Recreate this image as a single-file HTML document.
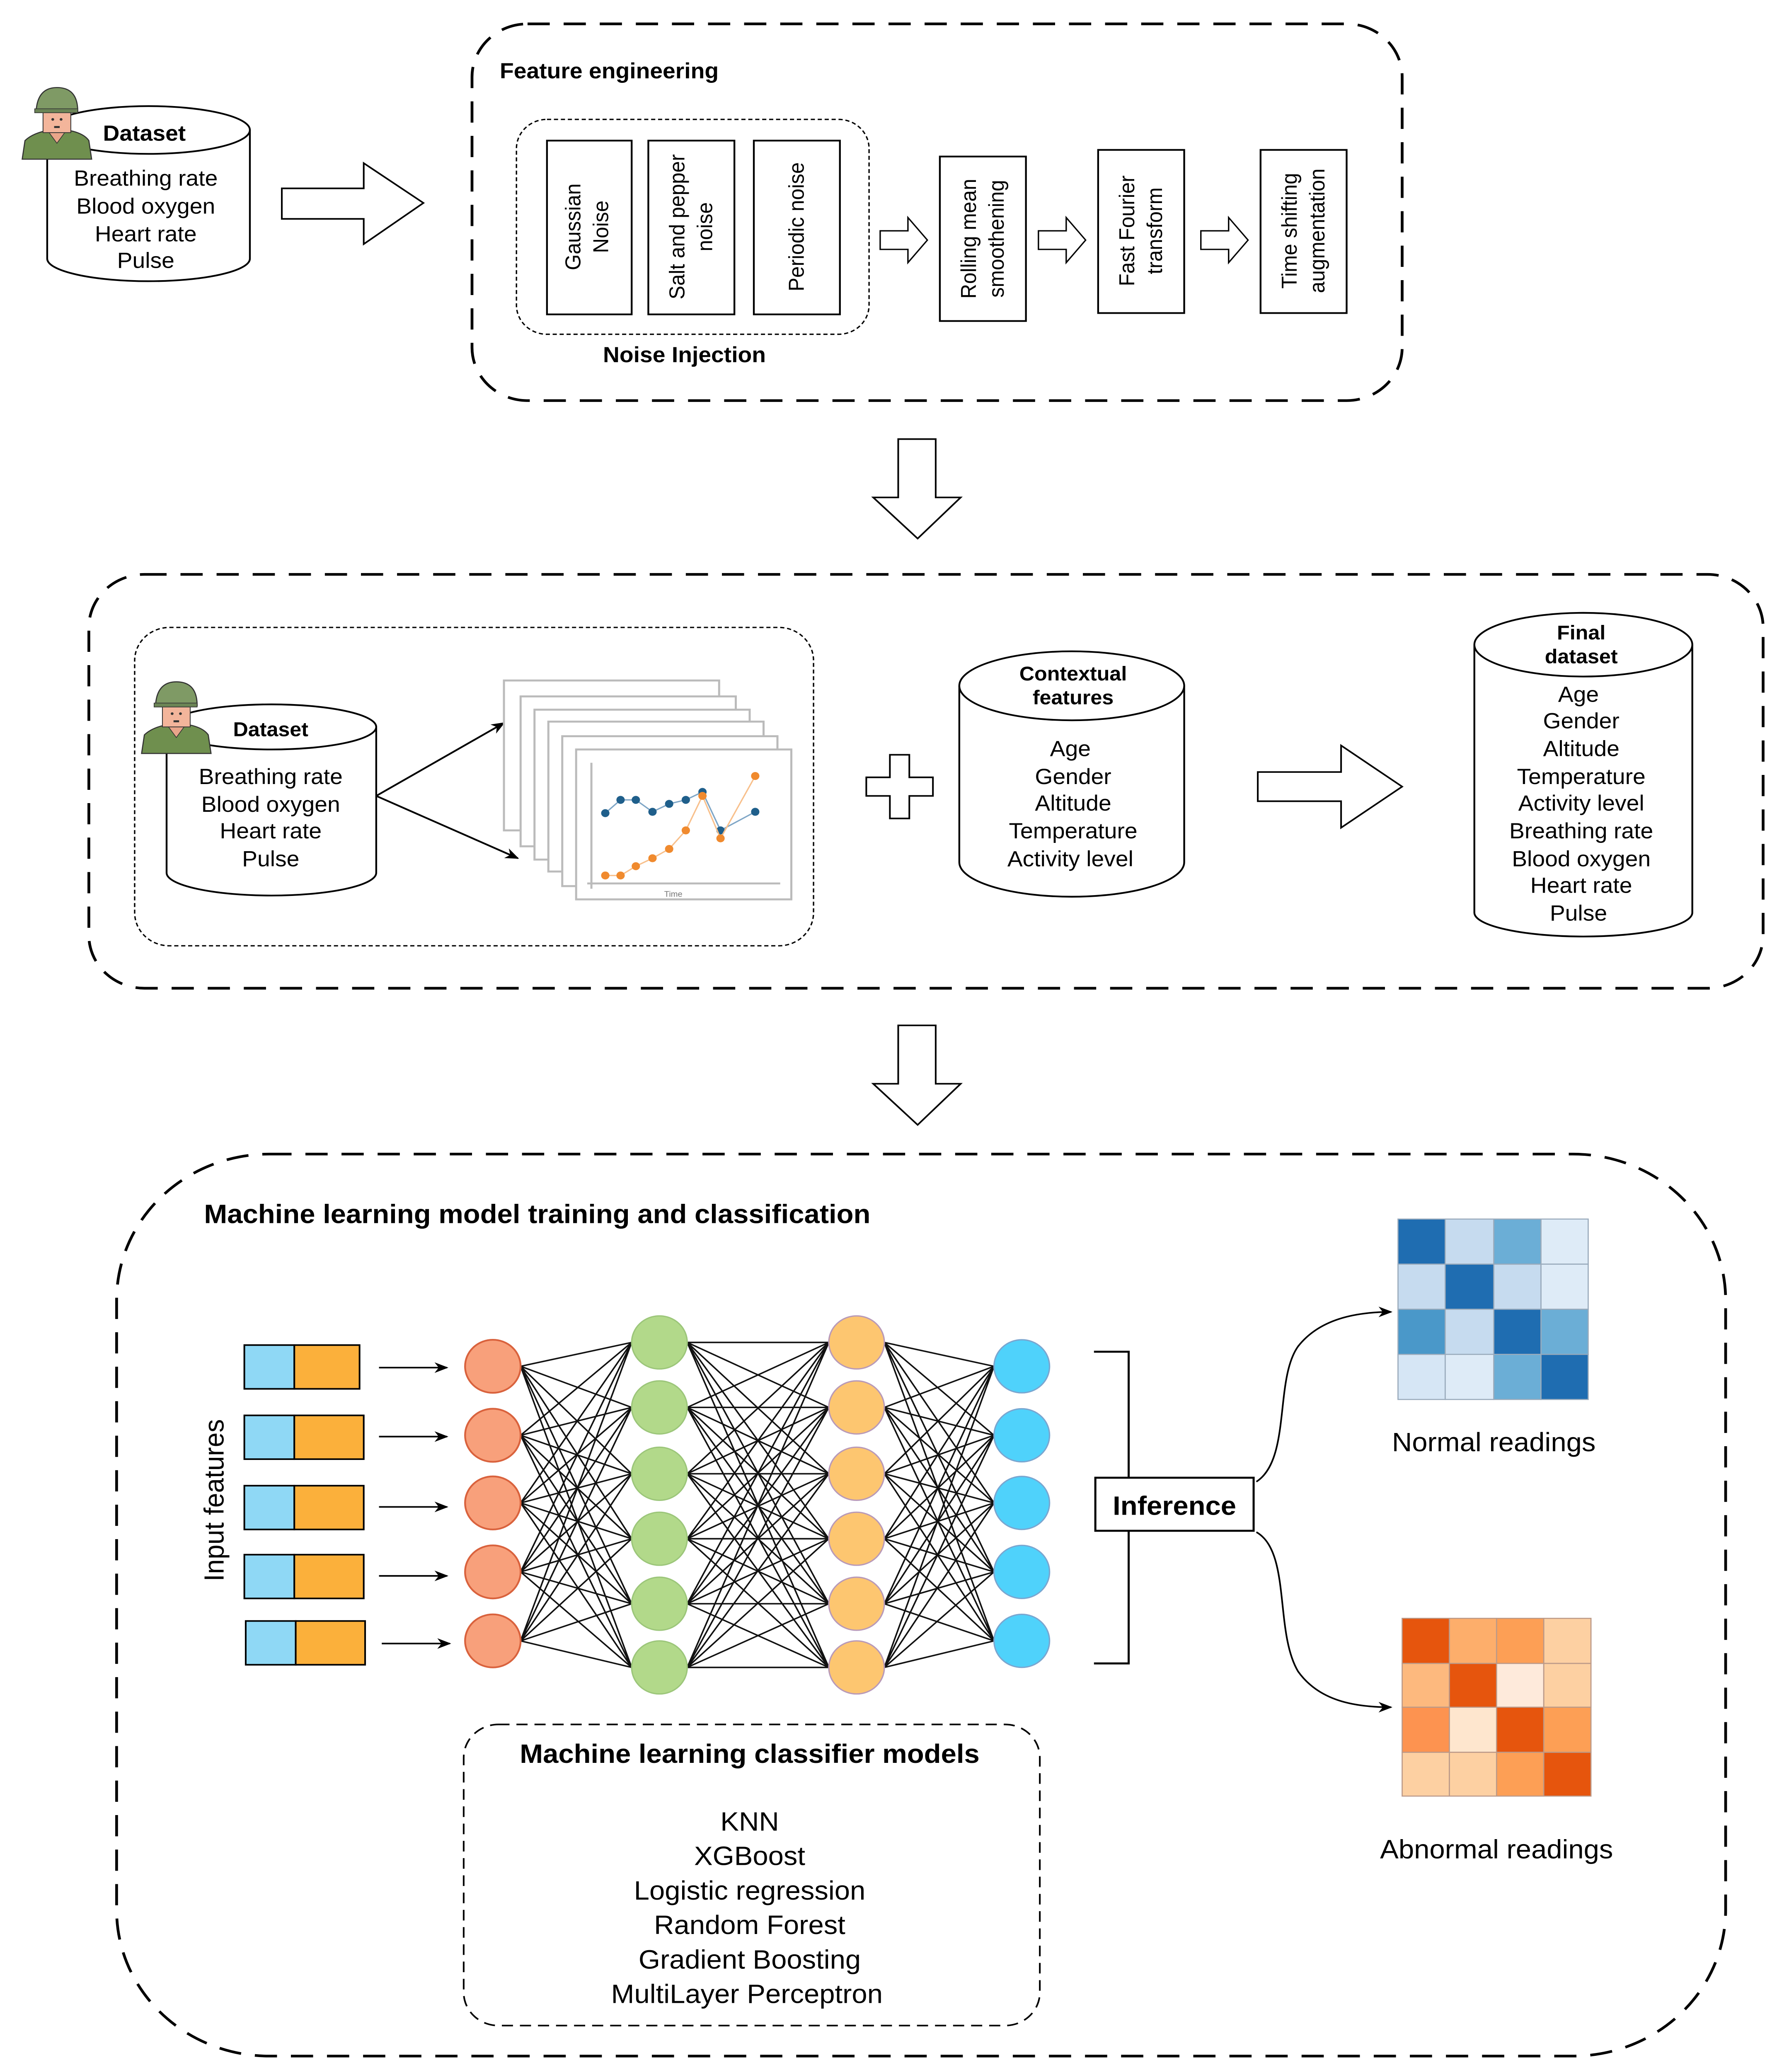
<!DOCTYPE html>
<html><head><meta charset="utf-8"><style>html,body{margin:0;padding:0;background:#fff;overflow:hidden;width:100%;height:100%}svg{display:block;width:100vw;height:100vh}</style></head>
<body>
<svg xmlns="http://www.w3.org/2000/svg" viewBox="0 0 1280 1562" preserveAspectRatio="none" font-family="Liberation Sans, sans-serif">
<defs>
<marker id="ah" markerWidth="10" markerHeight="8" refX="9" refY="4" orient="auto" markerUnits="userSpaceOnUse"><path d="M0,0 L10,4 L0,8 L3,4 Z" fill="#000"/></marker>
<g id="soldier">
 <path d="M-22,28 L-20,14 Q-14,8 -2,6 L10,6 Q22,8 26,14 L28,28 Z" fill="#6f8f4e" stroke="#333" stroke-width="0.8"/>
 <path d="M-4,6 L3,16 L10,6 Z" fill="#e9a58a" stroke="#333" stroke-width="0.5"/>
 <rect x="-7" y="-8" width="20" height="16" fill="#f3b59b" stroke="#333" stroke-width="0.6"/>
 <path d="M-12,-8 Q-11,-26 3,-26 Q18,-26 18,-8 Z" fill="#7f9a65" stroke="#333" stroke-width="0.8"/>
 <rect x="-13" y="-10" width="31" height="3" fill="#6b8455" stroke="#333" stroke-width="0.5"/>
 <circle cx="0" cy="-2" r="1" fill="#333"/><circle cx="6" cy="-2" r="1" fill="#333"/>
 <rect x="1" y="3" width="4" height="1.5" fill="#333"/>
</g>
</defs>
<rect width="1280" height="1562" fill="#fff"/>
<g fill="none" stroke="#000">
 <rect x="340" y="18" width="670" height="284" rx="40" stroke-width="2" stroke-dasharray="16,10"/>
 <rect x="372" y="90" width="254" height="162" rx="22" stroke-width="1" stroke-dasharray="3,2"/>
 <rect x="394" y="106" width="61" height="131" stroke-width="1.3"/>
 <rect x="467" y="106" width="62" height="131" stroke-width="1.3"/>
 <rect x="543" y="106" width="62" height="131" stroke-width="1.3"/>
 <rect x="677" y="118" width="62" height="124" stroke-width="1.3"/>
 <rect x="791" y="113" width="62" height="123" stroke-width="1.3"/>
 <rect x="908" y="113" width="62" height="123" stroke-width="1.3"/>
 <path d="M634,174 h20 v-10 l14,17 l-14,17 v-10 h-20 Z" stroke-width="1"/>
 <path d="M748,174 h20 v-10 l14,17 l-14,17 v-10 h-20 Z" stroke-width="1"/>
 <path d="M865,174 h20 v-10 l14,17 l-14,17 v-10 h-20 Z" stroke-width="1"/>
 <path d="M203,142 h59 v-19 l43,30 l-43,31 v-19 h-59 Z" stroke-width="1.2"/>
 <path d="M34,98 v97 a73,17 0 0 0 146,0 v-97" fill="#fff" stroke-width="1.3"/>
 <ellipse cx="107" cy="98" rx="73" ry="18" fill="#fff" stroke-width="1.3"/>
 <path d="M647,331 h27 v44 h18 l-31,31 l-32,-31 h18 Z" stroke-width="1.2"/>
 <path d="M647,773 h27 v44 h18 l-31,31 l-32,-31 h18 Z" stroke-width="1.2"/>
 <rect x="64" y="433" width="1206" height="312" rx="40" stroke-width="2" stroke-dasharray="16,10"/>
 <rect x="97" y="473" width="489" height="240" rx="25" stroke-width="1" stroke-dasharray="3,2"/>
 <path d="M120,548 v110 a75,17 0 0 0 151,0 v-110" fill="#fff" stroke-width="1.3"/>
 <ellipse cx="195.5" cy="548" rx="75.5" ry="17" fill="#fff" stroke-width="1.3"/>
 <line x1="271" y1="600" x2="363" y2="545" stroke-width="1.3" marker-end="url(#ah)"/>
 <line x1="271" y1="600" x2="373" y2="647" stroke-width="1.3" marker-end="url(#ah)"/>
 <path d="M641,569 h14 v17 h17 v14 h-17 v17 h-14 v-17 h-17 v-14 h17 Z" stroke-width="1.2"/>
 <path d="M691,517 v133 a81,26 0 0 0 162,0 v-133" fill="#fff" stroke-width="1.3"/>
 <ellipse cx="772" cy="517" rx="81" ry="26" fill="#fff" stroke-width="1.3"/>
 <path d="M906,582 h60 v-20 l44,31 l-44,31 v-20 h-60 Z" stroke-width="1.2"/>
 <path d="M1062,486 v202 a78.5,18 0 0 0 157,0 v-202" fill="#fff" stroke-width="1.3"/>
 <ellipse cx="1140.5" cy="486" rx="78.5" ry="24" fill="#fff" stroke-width="1.3"/>
 <rect x="84" y="870" width="1159" height="680" rx="110" stroke-width="2" stroke-dasharray="16,10"/>
 <rect x="334" y="1300" width="415" height="227" rx="25" stroke-width="1.2" stroke-dasharray="8,5"/>
 <path d="M788,1019 h25 v235 h-25" stroke-width="1.5"/>
 <path d="M905,1117 C930,1100 918,1040 935,1015 C950,995 975,989 1002,989" stroke-width="1.2" marker-end="url(#ah)"/>
 <path d="M905,1155 C930,1170 918,1230 935,1260 C950,1282 975,1287 1002,1287" stroke-width="1.2" marker-end="url(#ah)"/>
</g>
<use href="#soldier" transform="translate(38,92)"/>
<use href="#soldier" transform="translate(124,540)"/>
<g fill="#fff" stroke="#bbb" stroke-width="1.5">
 <rect x="363" y="513" width="155" height="113"/>
 <rect x="375" y="525" width="155" height="113"/>
 <rect x="385" y="535" width="155" height="113"/>
 <rect x="395" y="544" width="155" height="113"/>
 <rect x="405" y="555" width="155" height="113"/>
 <rect x="415" y="565" width="155" height="113"/>
</g>
<line x1="426" y1="575" x2="426" y2="670" stroke="#bbb" stroke-width="1.5"/>
<line x1="423" y1="666" x2="562" y2="666" stroke="#bbb" stroke-width="1.5"/>
<text x="485" y="676" font-size="6" fill="#777" text-anchor="middle">Time</text>
<polyline points="436,613 447,603 458,603 470,612 482,606 494,603 506,597 519,626 544,612" fill="none" stroke="#7fa6c6" stroke-width="1"/>
<g fill="#1f5f8b"><circle cx="436" cy="613" r="3"/><circle cx="447" cy="603" r="3"/><circle cx="458" cy="603" r="3"/><circle cx="470" cy="612" r="3"/><circle cx="482" cy="606" r="3"/><circle cx="494" cy="603" r="3"/><circle cx="506" cy="597" r="3"/><circle cx="519" cy="626" r="3"/><circle cx="544" cy="612" r="3"/></g>
<polyline points="436,660 447,660 458,653 470,647 482,640 494,626 506,600 519,632 544,585" fill="none" stroke="#f8c08c" stroke-width="1"/>
<g fill="#f08a2e"><circle cx="436" cy="660" r="3"/><circle cx="447" cy="660" r="3"/><circle cx="458" cy="653" r="3"/><circle cx="470" cy="647" r="3"/><circle cx="482" cy="640" r="3"/><circle cx="494" cy="626" r="3"/><circle cx="506" cy="600" r="3"/><circle cx="519" cy="632" r="3"/><circle cx="544" cy="585" r="3"/></g>
<g font-size="16.5" fill="#000">
 <text x="360" y="59" font-weight="bold">Feature engineering</text>
 <text x="493" y="273" font-weight="bold" text-anchor="middle">Noise Injection</text>
 <text x="104" y="106" font-weight="bold" text-anchor="middle">Dataset</text>
 <g text-anchor="middle">
  <text x="105" y="140">Breathing rate</text><text x="105" y="161">Blood oxygen</text>
  <text x="105" y="182">Heart rate</text><text x="105" y="202">Pulse</text>
 </g>
 <g text-anchor="middle" font-size="15.5">
  <text transform="translate(418,171) rotate(-90)">Gaussian</text>
  <text transform="translate(438,171) rotate(-90)">Noise</text>
  <text transform="translate(493,171) rotate(-90)">Salt and pepper</text>
  <text transform="translate(513,171) rotate(-90)">noise</text>
  <text transform="translate(579,171) rotate(-90)">Periodic noise</text>
  <text transform="translate(703,180) rotate(-90)">Rolling mean</text>
  <text transform="translate(723,180) rotate(-90)">smoothening</text>
  <text transform="translate(817,174) rotate(-90)">Fast Fourier</text>
  <text transform="translate(837,174) rotate(-90)">transform</text>
  <text transform="translate(934,174) rotate(-90)">Time shifting</text>
  <text transform="translate(954,174) rotate(-90)">augmentation</text>
 </g>
</g>
<g font-size="16.5" fill="#000" text-anchor="middle">
 <text x="195" y="555" font-weight="bold" font-size="15">Dataset</text>
 <text x="195" y="591">Breathing rate</text><text x="195" y="612">Blood oxygen</text>
 <text x="195" y="632">Heart rate</text><text x="195" y="653">Pulse</text>
 <text x="773" y="513" font-weight="bold" font-size="15">Contextual</text>
 <text x="773" y="531" font-weight="bold" font-size="15">features</text>
 <text x="771" y="570">Age</text><text x="773" y="591">Gender</text><text x="773" y="611">Altitude</text>
 <text x="773" y="632">Temperature</text><text x="771" y="653">Activity level</text>
 <text x="1139" y="482" font-weight="bold" font-size="15">Final</text>
 <text x="1139" y="500" font-weight="bold" font-size="15">dataset</text>
 <text x="1137" y="529">Age</text><text x="1139" y="549">Gender</text><text x="1139" y="570">Altitude</text>
 <text x="1139" y="591">Temperature</text><text x="1139" y="611">Activity level</text><text x="1139" y="632">Breathing rate</text>
 <text x="1139" y="653">Blood oxygen</text><text x="1139" y="673">Heart rate</text><text x="1137" y="694">Pulse</text>
</g>
<text x="147" y="922" font-size="20" font-weight="bold">Machine learning model training and classification</text>
<text transform="translate(161,1131) rotate(-90)" font-size="20" text-anchor="middle">Input features</text>
<g stroke="#000" stroke-width="1.2">
 <rect x="176" y="1014" width="36" height="33" fill="#8fd8f5"/><rect x="212" y="1014" width="47" height="33" fill="#fbb03b"/>
 <rect x="176" y="1067" width="36" height="33" fill="#8fd8f5"/><rect x="212" y="1067" width="50" height="33" fill="#fbb03b"/>
 <rect x="176" y="1120" width="36" height="33" fill="#8fd8f5"/><rect x="212" y="1120" width="50" height="33" fill="#fbb03b"/>
 <rect x="176" y="1172" width="36" height="33" fill="#8fd8f5"/><rect x="212" y="1172" width="50" height="33" fill="#fbb03b"/>
 <rect x="177" y="1222" width="36" height="33" fill="#8fd8f5"/><rect x="213" y="1222" width="50" height="33" fill="#fbb03b"/>
</g>
<g stroke="#000" stroke-width="1.2" marker-end="url(#ah)">
 <line x1="273" y1="1031" x2="322" y2="1031"/><line x1="273" y1="1083" x2="322" y2="1083"/>
 <line x1="273" y1="1136" x2="322" y2="1136"/><line x1="273" y1="1188" x2="322" y2="1188"/>
 <line x1="275" y1="1239" x2="324" y2="1239"/>
</g>
<g stroke="#111" stroke-width="1.1">
<path d="M375,1030L455,1012M375,1030L455,1061M375,1030L455,1111M375,1030L455,1160M375,1030L455,1209M375,1030L455,1257M375,1082L455,1012M375,1082L455,1061M375,1082L455,1111M375,1082L455,1160M375,1082L455,1209M375,1082L455,1257M375,1133L455,1012M375,1133L455,1061M375,1133L455,1111M375,1133L455,1160M375,1133L455,1209M375,1133L455,1257M375,1185L455,1012M375,1185L455,1061M375,1185L455,1111M375,1185L455,1160M375,1185L455,1209M375,1185L455,1257M375,1237L455,1012M375,1237L455,1061M375,1237L455,1111M375,1237L455,1160M375,1237L455,1209M375,1237L455,1257"/>
<path d="M495,1012L597,1012M495,1012L597,1061M495,1012L597,1111M495,1012L597,1160M495,1012L597,1209M495,1012L597,1257M495,1061L597,1012M495,1061L597,1061M495,1061L597,1111M495,1061L597,1160M495,1061L597,1209M495,1061L597,1257M495,1111L597,1012M495,1111L597,1061M495,1111L597,1111M495,1111L597,1160M495,1111L597,1209M495,1111L597,1257M495,1160L597,1012M495,1160L597,1061M495,1160L597,1111M495,1160L597,1160M495,1160L597,1209M495,1160L597,1257M495,1209L597,1012M495,1209L597,1061M495,1209L597,1111M495,1209L597,1160M495,1209L597,1209M495,1209L597,1257M495,1257L597,1012M495,1257L597,1061M495,1257L597,1111M495,1257L597,1160M495,1257L597,1209M495,1257L597,1257"/>
<path d="M637,1012L716,1030M637,1012L716,1082M637,1012L716,1133M637,1012L716,1185M637,1012L716,1237M637,1061L716,1030M637,1061L716,1082M637,1061L716,1133M637,1061L716,1185M637,1061L716,1237M637,1111L716,1030M637,1111L716,1082M637,1111L716,1133M637,1111L716,1185M637,1111L716,1237M637,1160L716,1030M637,1160L716,1082M637,1160L716,1133M637,1160L716,1185M637,1160L716,1237M637,1209L716,1030M637,1209L716,1082M637,1209L716,1133M637,1209L716,1185M637,1209L716,1237M637,1257L716,1030M637,1257L716,1082M637,1257L716,1133M637,1257L716,1185M637,1257L716,1237"/>
</g>
<g fill="#f8a07b" stroke="#d9623d" stroke-width="1.3">
 <ellipse cx="355" cy="1030" rx="20" ry="20"/><ellipse cx="355" cy="1082" rx="20" ry="20"/><ellipse cx="355" cy="1133" rx="20" ry="20"/><ellipse cx="355" cy="1185" rx="20" ry="20"/><ellipse cx="355" cy="1237" rx="20" ry="20"/>
</g>
<g fill="#b2d98a" stroke="#9cc67a" stroke-width="1">
 <ellipse cx="475" cy="1012" rx="20" ry="20"/><ellipse cx="475" cy="1061" rx="20" ry="20"/><ellipse cx="475" cy="1111" rx="20" ry="20"/><ellipse cx="475" cy="1160" rx="20" ry="20"/><ellipse cx="475" cy="1209" rx="20" ry="20"/><ellipse cx="475" cy="1257" rx="20" ry="20"/>
</g>
<g fill="#fdc670" stroke="#b99ab8" stroke-width="1">
 <ellipse cx="617" cy="1012" rx="20" ry="20"/><ellipse cx="617" cy="1061" rx="20" ry="20"/><ellipse cx="617" cy="1111" rx="20" ry="20"/><ellipse cx="617" cy="1160" rx="20" ry="20"/><ellipse cx="617" cy="1209" rx="20" ry="20"/><ellipse cx="617" cy="1257" rx="20" ry="20"/>
</g>
<g fill="#4fd2fb" stroke="#7aa6d0" stroke-width="1">
 <ellipse cx="736" cy="1030" rx="20" ry="20"/><ellipse cx="736" cy="1082" rx="20" ry="20"/><ellipse cx="736" cy="1133" rx="20" ry="20"/><ellipse cx="736" cy="1185" rx="20" ry="20"/><ellipse cx="736" cy="1237" rx="20" ry="20"/>
</g>
<rect x="789" y="1114" width="114" height="40" fill="#fff" stroke="#000" stroke-width="1.5"/>
<text x="846" y="1142" font-size="20" font-weight="bold" text-anchor="middle">Inference</text>
<g stroke="#9ab" stroke-width="0.8">
 <rect x="1007" y="919" width="34" height="34" fill="#1f6db1"/><rect x="1041" y="919" width="35" height="34" fill="#c6dbef"/><rect x="1076" y="919" width="34" height="34" fill="#6baed6"/><rect x="1110" y="919" width="34" height="34" fill="#deebf7"/>
 <rect x="1007" y="953" width="34" height="34" fill="#c6dbef"/><rect x="1041" y="953" width="35" height="34" fill="#1f6db1"/><rect x="1076" y="953" width="34" height="34" fill="#c6dbef"/><rect x="1110" y="953" width="34" height="34" fill="#deebf7"/>
 <rect x="1007" y="987" width="34" height="34" fill="#4a98c9"/><rect x="1041" y="987" width="35" height="34" fill="#c6dbef"/><rect x="1076" y="987" width="34" height="34" fill="#1f6db1"/><rect x="1110" y="987" width="34" height="34" fill="#6baed6"/>
 <rect x="1007" y="1021" width="34" height="34" fill="#d6e6f5"/><rect x="1041" y="1021" width="35" height="34" fill="#deebf7"/><rect x="1076" y="1021" width="34" height="34" fill="#6baed6"/><rect x="1110" y="1021" width="34" height="34" fill="#1f6db1"/>
</g>
<g stroke="#b98" stroke-width="0.8">
 <rect x="1010" y="1220" width="34" height="34" fill="#e6550d"/><rect x="1044" y="1220" width="34" height="34" fill="#fdae6b"/><rect x="1078" y="1220" width="34" height="34" fill="#fd9f55"/><rect x="1112" y="1220" width="34" height="34" fill="#fdd0a2"/>
 <rect x="1010" y="1254" width="34" height="33" fill="#fdb97e"/><rect x="1044" y="1254" width="34" height="33" fill="#e6550d"/><rect x="1078" y="1254" width="34" height="33" fill="#feeadb"/><rect x="1112" y="1254" width="34" height="33" fill="#fdd0a2"/>
 <rect x="1010" y="1287" width="34" height="34" fill="#fd9350"/><rect x="1044" y="1287" width="34" height="34" fill="#fee6ce"/><rect x="1078" y="1287" width="34" height="34" fill="#e6550d"/><rect x="1112" y="1287" width="34" height="34" fill="#fd9f55"/>
 <rect x="1010" y="1321" width="34" height="33" fill="#fdd0a2"/><rect x="1044" y="1321" width="34" height="33" fill="#fdd0a2"/><rect x="1078" y="1321" width="34" height="33" fill="#fd9f55"/><rect x="1112" y="1321" width="34" height="33" fill="#e6550d"/>
</g>
<g font-size="20" text-anchor="middle" fill="#000">
 <text x="1076" y="1094">Normal readings</text>
 <text x="1078" y="1401">Abnormal readings</text>
 <text x="540" y="1329" font-weight="bold">Machine learning classifier models</text>
 <text x="540" y="1380">KNN</text><text x="540" y="1406">XGBoost</text><text x="540" y="1432">Logistic regression</text>
 <text x="540" y="1458">Random Forest</text><text x="540" y="1484">Gradient Boosting</text><text x="538" y="1510">MultiLayer Perceptron</text>
</g>
</svg>
</body></html>
